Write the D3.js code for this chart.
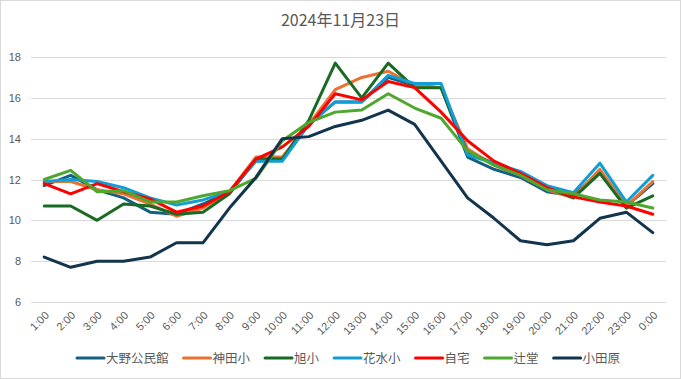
<!DOCTYPE html>
<html><head><meta charset="utf-8">
<script src="https://cdn.jsdelivr.net/npm/d3@7"></script>
<style>html,body{margin:0;padding:0;background:#fff}svg{display:block}</style>
</head><body>
<script>
const hours = ["1:00","2:00","3:00","4:00","5:00","6:00","7:00","8:00","9:00","10:00","11:00","12:00","13:00","14:00","15:00","16:00","17:00","18:00","19:00","20:00","21:00","22:00","23:00","0:00"];
const yTicks = [6,8,10,12,14,16,18];
const seriesNames = ["大野公民館","神田小","旭小","花水小","自宅","辻堂","小田原"];
const ohno    = [11.7,12.2,11.5,11.1,10.4,10.3,10.8,11.4,12.9,13.0,14.7,15.8,15.8,17.0,16.6,16.5,13.1,12.5,12.1,11.4,11.2,12.4,10.7,11.8];
const kanda   = [11.9,11.9,11.5,11.3,10.8,10.2,10.6,11.4,13.1,13.1,14.7,16.4,17.0,17.3,16.6,16.5,13.5,12.7,12.2,11.5,11.1,12.5,10.7,11.9];
const asahi   = [10.7,10.7,10.0,10.8,10.7,10.3,10.4,11.3,13.0,13.0,14.9,17.7,16.0,17.7,16.5,16.5,13.3,12.8,12.2,11.6,11.1,12.3,10.6,11.2];
const hanamizu= [11.9,12.0,11.9,11.6,11.1,10.75,11.0,11.4,12.9,12.9,14.7,15.8,15.8,17.1,16.7,16.7,13.2,12.8,12.4,11.7,11.35,12.8,10.9,12.2];
const home    = [11.8,11.3,11.8,11.4,11.05,10.4,10.7,11.4,13.0,13.6,14.6,16.2,15.9,16.8,16.5,15.3,13.9,12.9,12.3,11.6,11.15,10.9,10.7,10.3];
const tsujido = [12.0,12.45,11.4,11.45,10.9,10.9,11.2,11.45,12.05,13.9,14.8,15.3,15.4,16.2,15.5,15.0,13.4,12.7,12.2,11.5,11.3,11.0,10.9,10.6];
const odawara = [8.2,7.7,8.0,8.0,8.2,8.9,8.9,10.6,12.1,14.0,14.1,14.6,14.9,15.4,14.7,12.9,11.1,10.1,9.0,8.8,9.0,10.1,10.4,9.4];
const seriesValues = [ohno,kanda,asahi,hanamizu,home,tsujido,odawara];
const colors = ["#156082","#E97132","#196B24","#0F9ED5","#FF0000","#4EA72E","#12344d"];

const W=681,H=379;
const svg=d3.select("body").append("svg").attr("width",W).attr("height",H);
svg.append("rect").attr("x",0.5).attr("y",0.5).attr("width",W-1).attr("height",H-1)
  .attr("fill","#fff").attr("stroke","#d9d9d9");

svg.append("text").attr("x",340.5).attr("y",26).attr("text-anchor","middle")
  .attr("font-family","'Noto Sans CJK JP',sans-serif").attr("font-size",16).attr("fill","#595959")
  .text("2024年11月23日");

const x=d3.scalePoint().domain(hours).range([31,666]).padding(0.5);
const y=d3.scaleLinear().domain([6,18]).range([302,57]);

const grid=svg.append("g");
grid.selectAll("line").data(yTicks).join("line")
  .attr("x1",31).attr("x2",666).attr("y1",d=>Math.round(y(d))+0.5).attr("y2",d=>Math.round(y(d))+0.5)
  .attr("stroke","#d9d9d9").attr("stroke-width",1);

const yAxis=svg.append("g").attr("transform","translate(31,0)")
  .call(d3.axisLeft(y).tickValues(yTicks).tickSize(0).tickPadding(10));
yAxis.select(".domain").remove();
yAxis.selectAll("text").attr("font-family","'Liberation Sans',Arial,sans-serif").attr("font-size",11).attr("fill","#595959");

const xAxis=svg.append("g").attr("transform","translate(0,302)")
  .call(d3.axisBottom(x).tickSize(0).tickPadding(0));
xAxis.select(".domain").remove();
xAxis.selectAll("text")
  .attr("font-family","'Liberation Sans',Arial,sans-serif").attr("font-size",11).attr("fill","#595959")
  .attr("text-anchor","end").attr("dy",0)
  .attr("transform","translate(5,14) rotate(-45)");

const line=d3.line().x((d,i)=>x(hours[i])).y(d=>y(d));
seriesValues.forEach((vals,k)=>{
  svg.append("path").datum(vals).attr("d",line).attr("fill","none")
    .attr("stroke",colors[k]).attr("stroke-width",3).attr("stroke-linejoin","round").attr("stroke-linecap","round");
});

// legend
const lg=svg.append("g");
let lx=77; const ly=358;
seriesNames.forEach((name,k)=>{
  lg.append("line").attr("x1",lx).attr("x2",lx+27).attr("y1",ly).attr("y2",ly)
    .attr("stroke",colors[k]).attr("stroke-width",3).attr("stroke-linecap","round");
  const t=lg.append("text").attr("x",lx+29).attr("y",ly+4.5)
    .attr("font-family","'Noto Sans CJK JP',sans-serif").attr("font-size",12.5).attr("fill","#595959").text(name);
  const w=t.node().getComputedTextLength();
  lx+=29+w+15;
});
</script>
</body></html>
